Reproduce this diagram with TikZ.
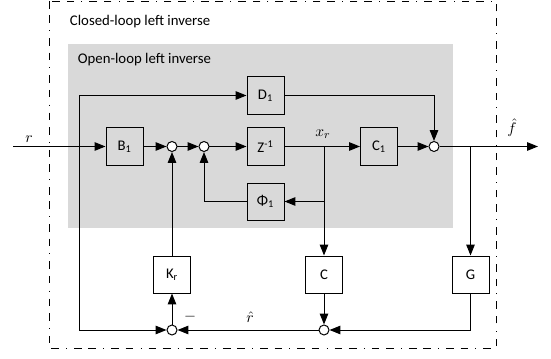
\documentclass[tikz,border=0pt]{standalone}
\usepackage{fontspec}
\setmainfont{Carlito}
\usetikzlibrary{arrows.meta}

\definecolor{graybg}{HTML}{D9D9D9}

\tikzset{
  blk/.style={draw, minimum size=0.925cm, inner sep=0pt, line width=0.7pt},
  sumpt/.style={draw, circle, fill=white, minimum size=0.25cm, inner sep=0pt, line width=0.7pt},
  sig/.style={line width=0.7pt, -{Triangle[length=0.27cm, width=0.21cm]}},
  wire/.style={line width=0.7pt},
  frame/.style={line width=0.7pt, dash pattern=on 0.19cm off 0.17cm on 0.19cm off 0.18cm on 0.02cm off 0.18cm},
  lab/.style={inner sep=1pt, font=\fontsize{11}{13}\selectfont},
}

\begin{document}
\begin{tikzpicture}[x=0.025cm, y=-0.025cm, font=\fontsize{10.5}{12}\selectfont]
    \useasboundingbox (0,0) rectangle (551,359);
    % frames
    \draw[frame] (49,1) rectangle (496,348);
    \fill[graybg] (68,44) rectangle (453,228);
    \node[anchor=west] (cltxt) at (65,22) {Closed-loop left inverse};
    \node[anchor=west] (oltxt) at (73,60) {Open-loop left inverse};

    % blocks
    \node[blk] (B1) at (124.5,146.5) {B\textsubscript{1}};
    \node[blk] (D1) at (265.5,95.5) {D\textsubscript{1}};
    \node[blk] (Z) at (265.5,146.5) {Z\textsuperscript{-1}};
    \node[blk] (C1) at (379,146.5) {C\textsubscript{1}};
    \node[blk] (Phi) at (265.5,201.5) {Φ\textsubscript{1}};
    \node[blk] (Kr) at (172,274.5) {K\textsubscript{r}};
    \node[blk] (C) at (324,274.5) {C};
    \node[blk] (G) at (470.5,274.5) {G};

    % summing points
    \node[sumpt] (s1) at (172,146.5) {};
    \node[sumpt] (s2) at (204,146.5) {};
    \node[sumpt] (s3) at (434,146.5) {};
    \node[sumpt] (s4) at (172,330) {};
    \node[sumpt] (s5) at (324,330) {};

    % free ends and branch points
    \coordinate (in) at (13,146.5);
    \coordinate (out) at (538,146.5);
    \coordinate (lt) at (79,95.5);
    \coordinate (lb) at (79,330);
    \coordinate (xr) at (324,146.5);
    \coordinate (pb) at (324,201.5);
    \coordinate (gb) at (470.5,146.5);

    % forward path
    \draw[sig] (in) -- (B1);
    \draw[sig] (B1) -- (s1);
    \draw[sig] (s1) -- (s2);
    \draw[sig] (s2) -- (Z);
    \draw[sig] (Z) -- (C1);
    \draw[sig] (C1) -- (s3);
    \draw[sig] (s3) -- (out);
    \draw[sig] (lt) -- (D1);
    \draw[sig] (D1) -| (s3);
    \draw[wire] (lt) -- (lb);
    \draw[sig] (lb) -- (s4);

    % inner loop
    \draw[sig] (xr) -- (C);
    \draw[sig] (pb) -- (Phi);
    \draw[sig] (Phi) -| (s2);

    % outer loop
    \draw[sig] (gb) -- (G);
    \draw[sig] (G) |- (s5);
    \draw[sig] (C) -- (s5);
    \draw[sig] (s5) -- (s4);
    \draw[sig] (s4) -- (Kr);
    \draw[sig] (Kr) -- (s1);

    % labels
    \node[lab] (rlab) at (29,139) {$r$};
    \node[lab] (xrlab) at (323,134) {$x_r$};
    \node[lab] (flab) at (512,128) {$\hat{f}$};
    \node[lab] (rhlab) at (250,317) {$\hat{r}$};
    \node[lab] (minus) at (190,317) {$-$};
\end{tikzpicture}
\end{document}
